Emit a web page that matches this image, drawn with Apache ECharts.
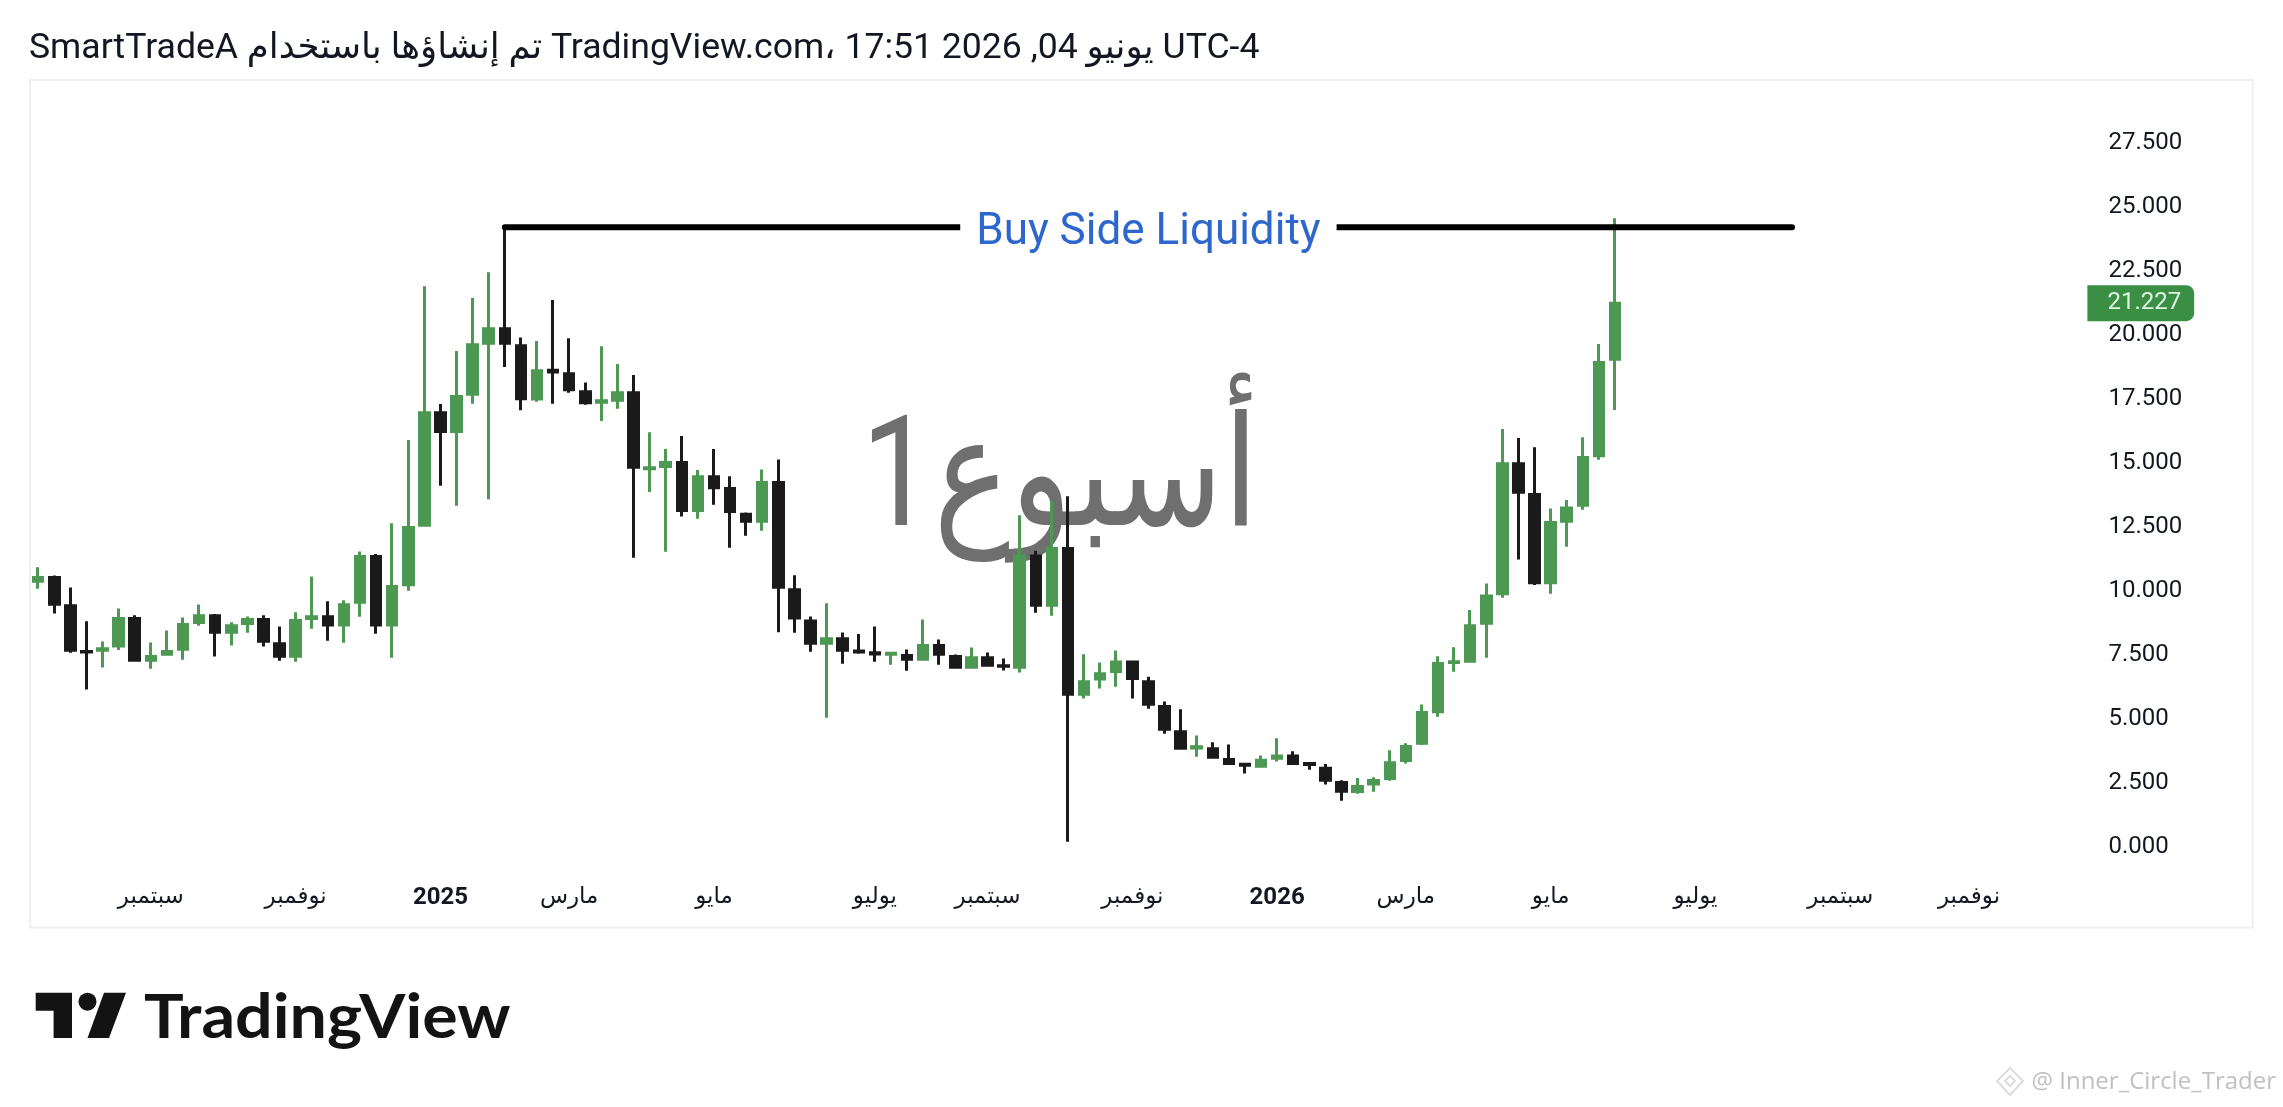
<!DOCTYPE html>
<html><head><meta charset="utf-8">
<style>html,body{margin:0;padding:0;background:#fff}#c{width:2283px;height:1107px}</style>
<script src="https://cdn.jsdelivr.net/npm/echarts@6/dist/echarts.min.js"></script>
</head><body><div id="c"></div>
<script>
const opens=[10.36,10.51,9.41,7.62,7.67,7.83,8.91,7.28,7.51,7.71,8.75,9.02,8.37,8.71,8.87,7.92,7.43,8.91,8.98,8.65,9.54,11.33,8.65,10.23,12.55,16.95,16.22,17.67,19.66,20.23,19.57,17.49,18.61,18.47,17.77,17.36,17.44,17.73,14.76,14.85,15.00,13.13,14.45,13.99,12.98,12.71,14.22,10.03,8.81,7.94,8.12,7.64,7.57,7.51,7.46,7.32,7.85,7.42,7.00,7.38,7.06,7.00,11.35,9.43,11.64,5.95,6.54,6.84,7.21,6.44,5.47,4.48,3.85,3.82,3.40,3.21,3.14,3.45,3.54,3.24,3.06,2.50,2.15,2.44,2.66,3.36,4.03,5.27,7.19,7.24,8.72,9.88,14.96,13.75,10.31,12.71,13.33,15.27,19.04];
const closes=[10.51,9.47,7.67,7.60,7.73,8.91,7.28,7.42,7.62,8.67,9.02,8.37,8.63,8.87,8.02,7.43,8.83,8.98,8.65,9.45,11.33,8.65,10.16,12.46,16.95,16.22,17.58,19.61,20.23,19.66,17.50,18.59,18.54,17.85,17.34,17.42,17.73,14.82,14.80,15.00,13.13,14.45,14.02,13.09,12.71,14.22,10.13,8.93,7.94,8.12,7.67,7.60,7.52,7.55,7.32,7.85,7.51,7.00,7.38,7.08,7.04,11.35,9.43,11.64,5.95,6.44,6.75,7.21,6.56,5.56,4.58,3.84,3.90,3.49,3.24,3.17,3.37,3.54,3.24,3.20,2.59,2.16,2.34,2.58,3.27,3.91,5.24,7.15,7.22,8.63,9.79,14.96,13.84,10.31,12.66,13.23,15.20,18.91,21.227];
const lows=[10.07,9.10,7.57,6.13,6.99,7.68,7.22,6.95,7.45,7.30,8.63,7.42,7.85,8.35,7.81,7.26,7.22,8.51,8.04,7.96,8.98,8.31,7.38,9.99,12.49,14.10,13.31,17.30,13.57,18.74,17.05,17.38,17.30,17.73,17.26,16.63,17.10,11.28,13.85,11.52,12.89,12.81,13.35,11.67,12.14,12.34,8.37,8.35,7.61,5.03,7.14,7.53,7.22,7.10,6.87,7.26,7.10,6.95,6.95,7.03,6.88,6.80,9.13,9.02,0.19,5.78,6.17,6.24,5.78,5.38,4.41,3.78,3.51,3.43,3.20,2.85,3.08,3.32,3.20,3.00,2.42,1.79,2.06,2.14,2.57,3.24,3.97,5.07,6.83,7.18,7.38,9.72,11.21,10.22,9.88,11.71,13.16,15.11,17.06];
const highs=[10.91,10.59,10.12,8.80,8.01,9.30,9.04,7.97,8.44,8.95,9.46,9.08,8.76,8.99,9.04,8.60,9.15,10.55,9.58,9.62,11.53,11.43,12.63,15.88,21.89,17.29,19.36,21.43,22.44,24.20,19.89,19.75,21.35,19.86,18.13,19.55,18.85,18.42,16.19,15.53,16.04,14.71,15.53,14.47,13.05,14.73,15.12,10.60,8.99,9.50,8.36,8.30,8.60,7.58,7.70,8.87,8.09,7.50,7.78,7.58,7.35,12.94,11.56,13.50,13.69,7.51,7.19,7.66,7.27,6.63,5.67,5.36,4.34,4.07,3.99,3.25,3.56,4.23,3.72,3.25,3.22,2.59,2.68,2.71,3.76,4.03,5.55,7.43,7.79,9.24,10.28,16.31,15.96,15.60,13.21,13.54,15.99,19.63,24.55];
const barCount=125;
const monthLabels=['سبتمبر','نوفمبر','2025','مارس','مايو','يوليو','سبتمبر','نوفمبر','2026','مارس','مايو','يوليو','سبتمبر','نوفمبر'];
const monthBars=[7,16,25,33,42,52,59,68,77,85,94,103,112,120];
const liquidityLevel=24.2, liquidityFrom=29, liquidityTo=109, liquidityLabelBar=69;
const lastPrice=21.227;
const titleText='SmartTradeA تم إنشاؤها باستخدام TradingView.com، 17:51 2026 ,04 يونيو UTC-4';
const intervalText='1أسبوع';

const categories=Array.from({length:barCount},(_,i)=>{const k=monthBars.indexOf(i);return k<0?'':monthLabels[k];});
const ohlc=opens.map((o,i)=>[o,closes[i],lows[i],highs[i]]);
const liquidity=categories.map((_,i)=>i>=liquidityFrom&&i<=liquidityTo?liquidityLevel:null);
const FONT='Roboto, "DejaVu Sans", sans-serif';
const GREEN='#4d9853',BLACK='#1a1a1a';
const chart=echarts.init(document.getElementById('c'),null,{renderer:'canvas',width:2283,height:1107});
chart.setOption({
  animation:false,backgroundColor:'#fff',
  textStyle:{fontFamily:FONT},
  grid:{left:30.15,top:142.7,width:2011.25,height:703.8,containLabel:false},
  xAxis:{type:'category',data:categories,boundaryGap:true,
    axisLine:{show:false},axisTick:{show:false},splitLine:{show:false},
    axisLabel:{interval:0,margin:39,color:'#131722',fontFamily:FONT,fontSize:23,hideOverlap:false,
      formatter:v=>/^\d+$/.test(v)?'{y|'+v+'}':v,
      rich:{y:{fontFamily:FONT,fontSize:24,fontWeight:'bold',color:'#131722'}}}},
  yAxis:{type:'value',position:'right',min:0,max:27.5,interval:2.5,
    axisLine:{show:false},axisTick:{show:false},splitLine:{show:false},
    axisLabel:{margin:67,color:'#131722',fontFamily:FONT,fontSize:24,align:'left',padding:[5,0,0,0],formatter:v=>v.toFixed(3)}},
  series:[
    {type:'candlestick',data:ohlc,barWidth:10,silent:true,z:3,
      itemStyle:{color:GREEN,color0:BLACK,borderColor:GREEN,borderColor0:BLACK,borderWidth:3},
      markLine:{silent:true,symbol:'none',animation:false,lineStyle:{color:'rgba(0,0,0,0)',width:1},
        data:[{yAxis:lastPrice}],
        label:{show:true,position:'end',distance:46,formatter:()=>lastPrice.toFixed(3),color:'#dff5df',fontFamily:FONT,fontSize:24,opacity:1,
          backgroundColor:'#3a8f45',padding:[7,13,5,20],borderRadius:[0,8,8,0]}}},
    {type:'line',data:liquidity,connectNulls:false,showSymbol:false,symbol:'none',silent:true,z:4,
      lineStyle:{color:'#000',width:6,cap:'round'},
      markPoint:{silent:true,symbol:'circle',symbolSize:0,animation:false,
        data:[{coord:[liquidityLabelBar,liquidityLevel]}],
        label:{show:true,position:'inside',offset:[0,6],formatter:'Buy Side Liquidity',color:'#2d66cc',fontFamily:FONT,fontSize:44,
          backgroundColor:'#fff',padding:[2,16,2,16]}}}
  ],
  graphic:[
    {type:'rect',z:0,silent:true,shape:{x:30,y:80,width:2222.7,height:847.6},style:{fill:'none',stroke:'#f0f0f0',lineWidth:2}},
    {type:'text',z:1,silent:true,x:29,y:49.5,style:{text:titleText,font:'35.6px '+FONT,fill:'#131722',textVerticalAlign:'middle'}},
    {type:'text',z:1,silent:true,x:1060,y:487,scaleX:0.88,scaleY:1.05,style:{text:intervalText,font:'146px '+FONT,fill:'#6f6f6f',textAlign:'center',textVerticalAlign:'middle'}},
    {type:'polygon',z:1,silent:true,shape:{points:[[35.7,992.7],[72,992.7],[72,1038],[53.6,1038],[53.6,1010.7],[35.7,1010.7]]},style:{fill:'#131313'}},
    {type:'circle',z:1,silent:true,shape:{cx:87.5,cy:1001.7,r:9},style:{fill:'#131313'}},
    {type:'polygon',z:1,silent:true,shape:{points:[[104,992.7],[126,992.7],[109,1038],[87.5,1038]]},style:{fill:'#131313'}},
    {type:'text',z:1,silent:true,x:144,y:1017.5,scaleX:1.07,style:{text:'TradingView',font:'bold 62px Lato, '+FONT,fill:'#131313',textVerticalAlign:'middle'}},
    {type:'text',z:1,silent:true,x:2276,y:1082,style:{text:'@ Inner_Circle_Trader',font:'24px "Open Sans", '+FONT,fill:'#c0c0c0',textAlign:'right',textVerticalAlign:'middle'}},
    {type:'polygon',z:1,silent:true,shape:{points:[[2010,1068],[2023,1081],[2010,1095],[1997,1081]]},style:{fill:'none',stroke:'#dcdcdc',lineWidth:2}},
    {type:'polygon',z:1,silent:true,shape:{points:[[2010,1076],[2015,1081],[2010,1086],[2005,1081]]},style:{fill:'none',stroke:'#dcdcdc',lineWidth:2}}
  ]
});
</script></body></html>
